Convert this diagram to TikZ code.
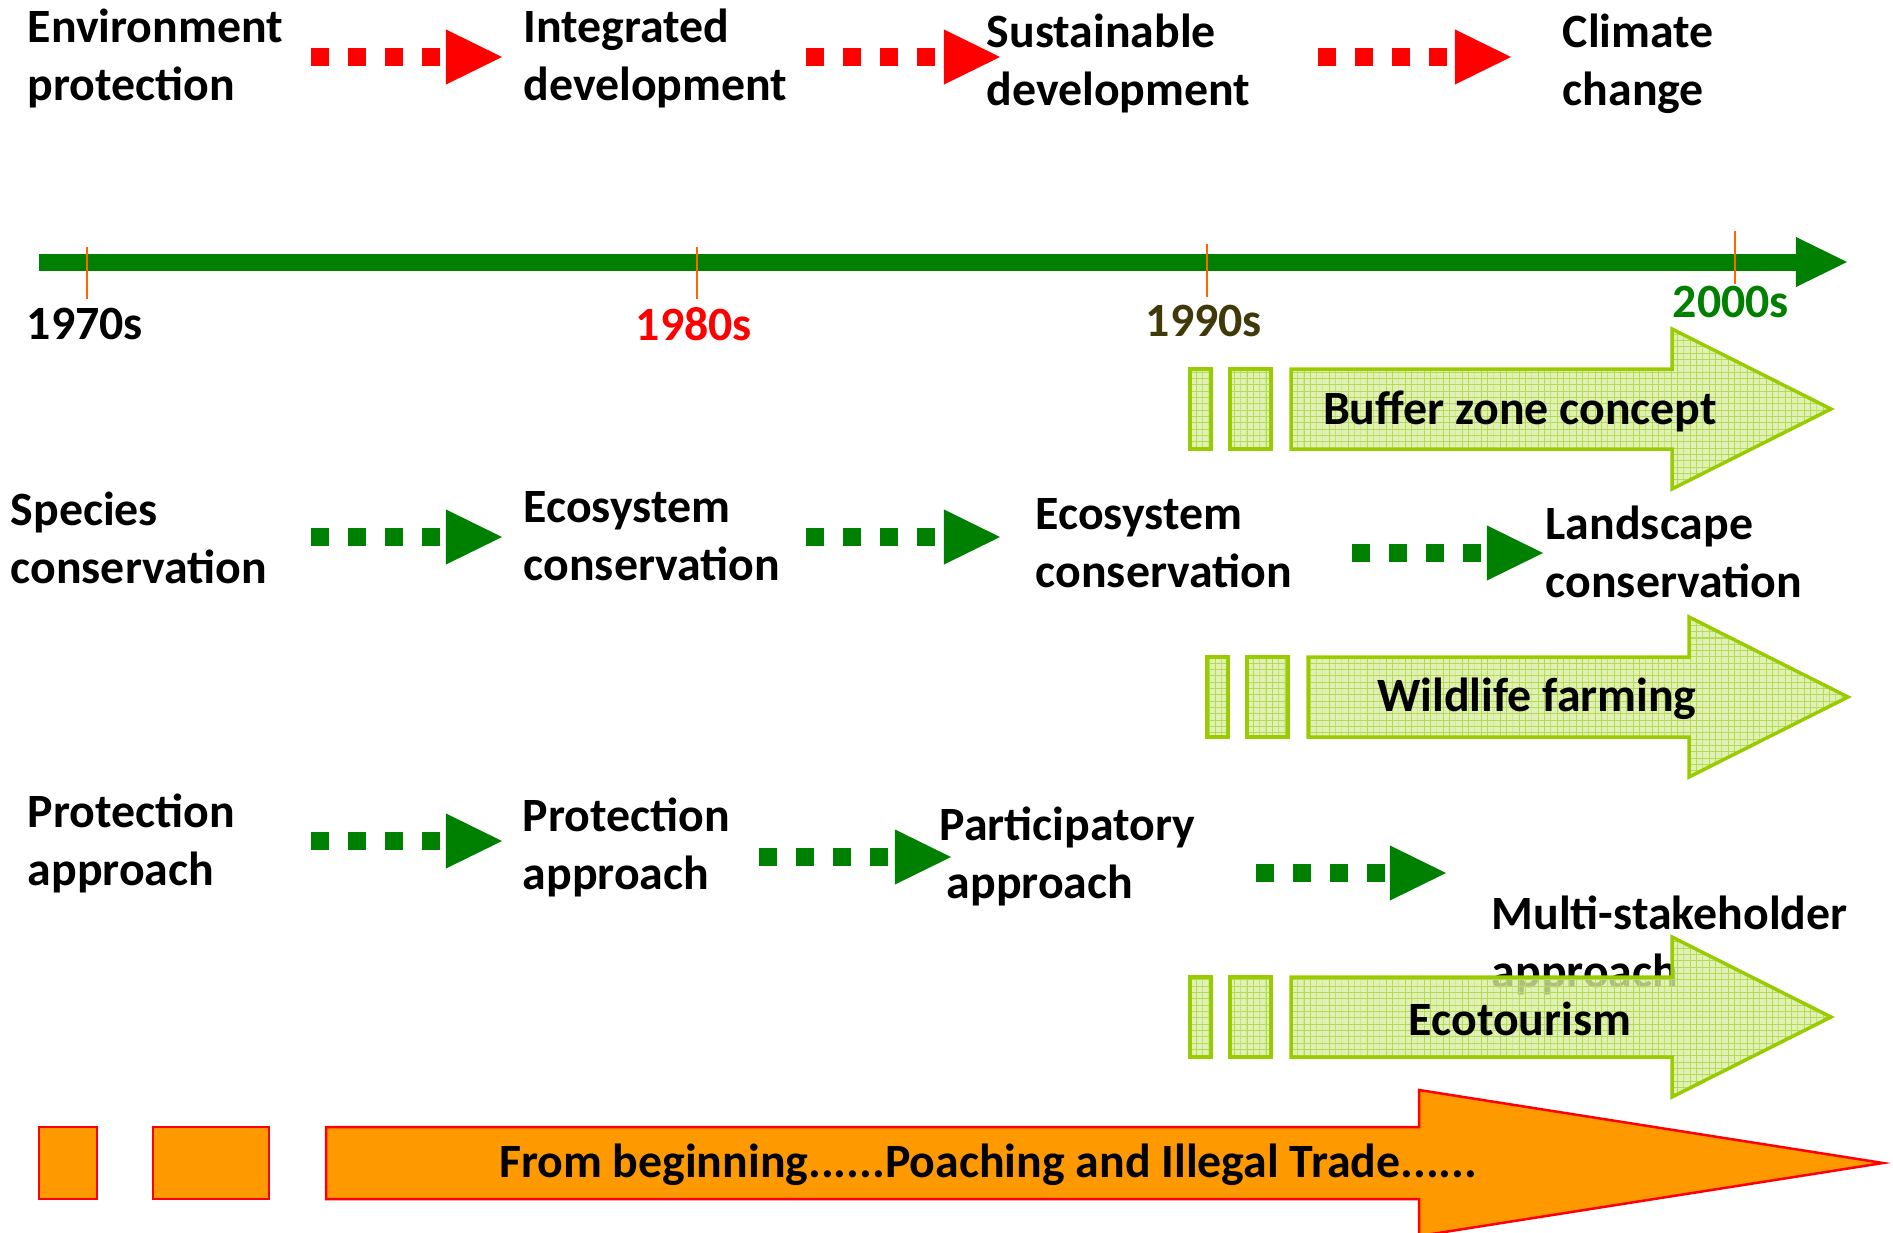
\documentclass[tikz,border=0pt]{standalone}
\usepackage{fontspec}
\setmainfont{Carlito}
\usepackage{tikz}
\usetikzlibrary{positioning, calc, arrows.meta, patterns}

\definecolor{dkgreen}{RGB}{0,128,0}
\definecolor{tickorange}{RGB}{255,102,0}
\definecolor{olive90}{RGB}{64,58,10}
\definecolor{limeborder}{RGB}{153,204,0}
\definecolor{limefill}{RGB}{216,238,160}
\definecolor{limegrid}{RGB}{180,218,90}
\definecolor{trunkorange}{RGB}{255,153,0}

% fine grid used inside the green block arrows
\pgfdeclarepatternformonly{finegrid}{\pgfqpoint{-0.1pt}{-0.1pt}}{\pgfqpoint{1.9pt}{1.9pt}}{\pgfqpoint{1.8pt}{1.8pt}}
{
	\pgfsetlinewidth{0.3pt}
	\pgfpathmoveto{\pgfqpoint{0pt}{0pt}}
	\pgfpathlineto{\pgfqpoint{1.81pt}{0pt}}
	\pgfpathmoveto{\pgfqpoint{0pt}{0pt}}
	\pgfpathlineto{\pgfqpoint{0pt}{1.81pt}}
	\pgfusepath{stroke}
}

\tikzset{
	lbl/.style={font=\bfseries\fontsize{13.6pt}{16.5pt}\selectfont, inner sep=0pt},
	stage/.style={lbl, align=left, anchor=west},
	redflow/.style={red, line width=0.18cm, dash pattern=on 0.18cm off 0.19cm,
		-{Triangle[length=0.56cm, width=0.55cm, line width=0pt]}},
	greenflow/.style={redflow, dkgreen},
	tick/.style={tickorange, line width=0.025cm},
	blockpart/.style={draw=limeborder, line width=0.035cm, fill opacity=0.8,
		preaction={fill=limefill, fill opacity=0.8}, pattern=finegrid, pattern color=limegrid},
	trunk/.style={draw=red, line width=0.025cm, fill=trunkorange}
}

\begin{document}
\begin{tikzpicture}[x=0.01cm, y=-0.01cm]
	\useasboundingbox (0,0) rectangle (1893,1233);
	
	%//top row, red
	\node[stage] (env) at (27,58) {Environment\\protection};
	\node[stage] (integ) at (523,58) {Integrated\\development};
	\node[stage] (sust) at (986,63) {Sustainable\\development};
	\node[stage] (clim) at (1562,64) {Climate\\change};
	
	\foreach \a/\b in {311/502, 806/1000, 1318/1511}
	{
		\coordinate (rs) at (\a,57);
		\coordinate (re) at (\b,57);
		\draw[redflow] (rs) -- (re);
	}
	
	%//time line
	\coordinate (t0) at (39,262);
	\coordinate (t1) at (1847,262);
	\draw[dkgreen, line width=0.17cm, -{Triangle[length=0.51cm, width=0.50cm, line width=0pt]}] (t0) -- (t1);
	
	\foreach \x/\ya/\yb in {87/247/299, 697/247/299, 1207/244/297, 1735/231/284}
	\draw[tick] (\x,\ya) -- (\x,\yb);
	
	\node[lbl] (y70) at (85,324) {1970s};
	\node[lbl, red] (y80) at (694,324) {1980s};
	\node[lbl, olive90] (y90) at (1204,321) {1990s};
	\node[lbl, dkgreen] (y00) at (1731,302) {2000s};
	
	%//conservation row
	\node[stage] (species) at (10,538) {Species\\conservation};
	\node[stage] (ecoA) at (523,536) {Ecosystem\\conservation};
	\node[stage] (ecoB) at (1035,543) {Ecosystem\\conservation};
	\node[stage] (land) at (1545,552) {Landscape\\conservation};
	
	%//approach row
	\node[stage] (protA) at (27,843) {Protection\\approach};
	\node[stage] (protB) at (522,847) {Protection\\approach};
	\node[stage] (partic) at (939,856) {Participatory\\\hspace{0.07cm}approach};
	\node[stage] (multi) at (1491,945) {Multi-stakeholder\\approach};
	
	\foreach \a/\b/\y in {311/502/537, 806/1000/537, 1352/1543/553, 311/502/841, 759/951/857, 1256/1446/873}
	{
		\coordinate (gs) at (\a,\y);
		\coordinate (ge) at (\b,\y);
		\draw[greenflow] (gs) -- (ge);
	}
	
	%//green block arrows
	\foreach \bx/\by/\nm/\txt in {1190/409/buffer/Buffer zone concept, 1207/697/farming/Wildlife farming, 1190/1017/ecotour/Ecotourism}
	{
		\path[blockpart] (\bx,\by-40) rectangle (\bx+21,\by+40);
		\path[blockpart] (\bx+40,\by-40) rectangle (\bx+81,\by+40);
		\path[blockpart] (\bx+101,\by-40) -- (\bx+482,\by-40) -- (\bx+482,\by-80) -- (\bx+641,\by)
			-- (\bx+482,\by+80) -- (\bx+482,\by+40) -- (\bx+101,\by+40) -- cycle;
		\node[lbl] (\nm) at (\bx+330,\by+2) {\txt};
	}
	
	%//poaching arrow
	\draw[trunk] (39,1127) rectangle (97,1199);
	\draw[trunk] (153,1127) rectangle (269,1199);
	\draw[trunk] (326,1127) -- (1419,1127) -- (1419,1090) -- (1883,1163) -- (1419,1236)
		-- (1419,1199) -- (326,1199) -- cycle;
	\node[lbl] (poach) at (988,1165) {From beginning......Poaching and Illegal Trade......};
	
\end{tikzpicture}
\end{document}
